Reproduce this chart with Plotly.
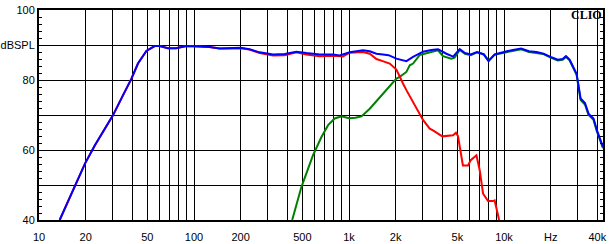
import plotly.graph_objects as go

# ---- data (frequency in Hz, level in dBSPL) ----
blue_f = [13.6, 16.6, 19.8, 22.9, 27.2, 30, 34.8, 39.5, 43.5, 49.3, 55.7, 60, 67.9, 76.6, 89.3, 100,
          109, 126, 146.6, 200, 228, 265, 300, 324, 385, 458, 531, 647, 788, 871, 1011, 1100, 1231,
          1361, 1503, 1656, 1800, 2022, 2346, 2590, 3003, 3400, 3750, 4250, 4700, 5180, 5600, 6100,
          6700, 7400, 7950, 8700, 9500, 10600, 12900, 14500, 16200, 18000, 20000, 22200, 23900,
          25100, 26500, 27900, 29400, 30100, 31200, 33300, 35100, 37800, 39800, 43500]
blue_db = [40, 48.5, 56.1, 61.3, 66.6, 69.9, 75.6, 80.4, 84.7, 88.3, 89.7, 89.7, 89.1, 89.1, 89.7, 89.7,
           89.6, 89.4, 89.0, 89.2, 88.8, 87.9, 87.4, 87.3, 87.4, 88.1, 87.7, 87.3, 87.3, 87.0, 87.9, 88.2, 88.5,
           88.2, 87.5, 87.3, 87.1, 86.1, 85.4, 86.6, 88.1, 88.6, 88.8, 87.5, 86.7, 88.8, 87.7, 87.3,
           88.0, 87.3, 85.4, 87.3, 87.8, 88.3, 89.0, 88.2, 88.0, 87.5, 86.6, 85.8, 86.0,
           86.8, 85.8, 83.7, 81.8, 79.0, 74.7, 73.4, 70.4, 69.0, 65.6, 60.9]

red_f = [13.6, 16.6, 19.8, 22.9, 27.2, 30, 34.8, 39.5, 43.5, 49.3, 55.7, 60, 67.9, 76.6, 89.3, 100,
         109, 126, 146.6, 200, 228, 265, 324, 385, 458, 531, 647, 788, 914, 1011,
         1231, 1361, 1503, 1650, 1831, 2022, 2124, 2230, 2346, 2590, 2800, 3003, 3318, 3483, 4000,
         4690, 4900, 5050, 5180, 5433, 5860, 6100, 6640, 6970, 7330, 7890, 8490, 8700, 9000, 9300]
red_db = [40, 48.5, 56.1, 61.3, 66.6, 69.9, 75.6, 80.4, 84.7, 88.3, 89.7, 89.7, 89.1, 89.1, 89.7, 89.7,
          89.6, 89.4, 89.0, 89.1, 88.7, 87.7, 87.0, 87.1, 87.9, 87.3, 86.8, 86.9, 86.7, 87.8,
          88.0, 87.5, 86.0, 85.4, 84.7, 83.0, 80.8, 79.0, 77.1, 73.7, 70.9, 68.6, 66.1, 65.6, 63.9,
          64.2, 64.9, 64.0, 61.0, 55.6, 55.6, 57.1, 58.5, 54.2, 47.5, 45.4, 45.4, 45.6, 42.8, 40]

green_f = [430, 493, 586, 664, 733, 809, 894, 1000, 1100, 1202, 1361, 1579, 1831, 2022, 2124, 2346,
           2466, 2590, 2856, 3236, 3480, 3750, 4040, 4570, 4800, 5180, 5600, 6100, 6700, 7400, 7950,
           8700, 9500, 10600, 12900, 14500, 16200, 18000, 20000, 22200, 23900, 25100, 26500, 27900,
           29400, 30100, 31200, 33300, 35100, 37800, 39800, 43500]
green_db = [40, 49.4, 58.5, 63.7, 67.1, 69.0, 69.6, 69.1, 69.2, 69.6, 71.8, 75.1, 78.5, 80.4, 80.9, 82.3,
            84.2, 84.7, 87.1, 87.8, 88.3, 88.5, 86.8, 86.1, 86.4, 88.6, 87.5, 87.1, 87.9, 87.4, 85.6,
            87.2, 87.6, 88.1, 88.8, 88.0, 87.8, 87.4, 86.4, 85.6, 85.8, 86.6, 85.6, 83.4,
            81.5, 78.6, 74.3, 73.0, 70.0, 68.6, 65.2, 60.5]

x_grid = [10, 20, 30, 40, 50, 60, 70, 80, 90, 100, 200, 300, 400, 500, 600, 700, 800, 900,
          1000, 2000, 3000, 4000, 5000, 6000, 7000, 8000, 9000, 10000, 20000, 30000, 40000]
x_text = ["10", "20", "", "", "50", "", "", "", "", "100", "200", "", "", "500", "", "", "", "",
          "1k", "2k", "", "", "5k", "", "", "", "", "10k", "Hz", "", "40k"]
y_vals = [40, 50, 60, 70, 80, 90, 100]
y_text = ["40", "", "60", "", "80", "dBSPL", "100"]

fig = go.Figure()
fig.add_trace(go.Scatter(x=green_f, y=green_db, mode="lines", line=dict(color="#008000", width=2)))
fig.add_trace(go.Scatter(x=red_f, y=red_db, mode="lines", line=dict(color="#FF0000", width=2)))
fig.add_trace(go.Scatter(x=blue_f, y=blue_db, mode="lines", line=dict(color="#0000FF", width=2)))

fig.update_layout(
    width=612, height=244,
    margin=dict(l=39, r=9, t=10, b=24),
    paper_bgcolor="white", plot_bgcolor="white",
    showlegend=False,
    font=dict(family="Arial, Liberation Sans, sans-serif", size=11, color="#000000"),
    xaxis=dict(type="log", range=[1, 4.6387], tickvals=x_grid, ticktext=x_text,
               showgrid=True, gridcolor="#000000", gridwidth=1, ticks="",
               showline=True, linecolor="#000000", linewidth=2, mirror=True,
               zeroline=False, automargin=False, ticklabelstandoff=6, tickfont=dict(size=11)),
    yaxis=dict(range=[40, 100], tickvals=y_vals, ticktext=y_text,
               showgrid=True, gridcolor="#000000", gridwidth=1,
               ticks="inside", ticklen=3, tickcolor="#000000",
               showline=True, linecolor="#000000", linewidth=2, mirror="allticks",
               minor=dict(dtick=2, ticks="inside", ticklen=3, tickcolor="#000000", showgrid=False),
               zeroline=False, automargin=False, tickfont=dict(size=11)),
    annotations=[dict(text="<b>CLIO</b>", x=1, y=1, xref="paper", yref="paper",
                      xanchor="right", yanchor="top", showarrow=False, yshift=4, xshift=1,
                      font=dict(family="Liberation Serif, Times New Roman, serif", size=12, color="#000000"))],
)

fig.write_html("out.html")
